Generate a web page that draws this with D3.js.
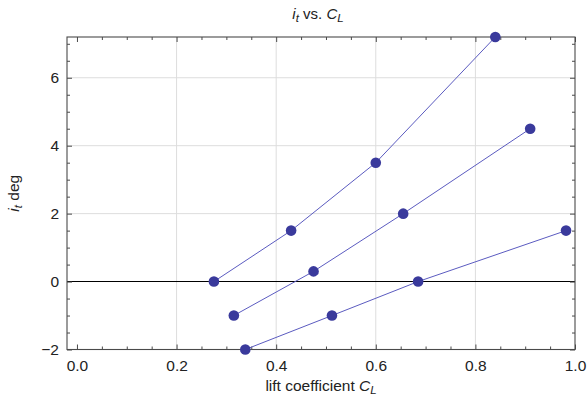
<!DOCTYPE html>
<html>
<head>
<meta charset="utf-8">
<script src="https://cdn.jsdelivr.net/npm/d3@7"></script>
<style>
  html, body { margin: 0; padding: 0; background: #fff; }
  svg { display: block; font-family: "Liberation Sans", Arial, sans-serif; }
</style>
</head>
<body>
<svg id="chart" width="588" height="407"></svg>
<script>
// Tail incidence required vs. lift coefficient, one line per trim case
const seriesA = [[0.275, 0], [0.43, 1.5], [0.6, 3.5], [0.84, 7.2]];
const seriesB = [[0.315, -1], [0.475, 0.3], [0.655, 2], [0.91, 4.5]];
const seriesC = [[0.338, -2], [0.512, -1], [0.685, 0], [0.982, 1.5]];
const allSeries = [seriesA, seriesB, seriesC];

const xTicks = [0, 0.2, 0.4, 0.6, 0.8, 1.0];
const yTicks = [-2, 0, 2, 4, 6];

const svg = d3.select("#chart");
const plotLeft = 67, plotRight = 575, plotTop = 37, plotBottom = 349.5;
const labelSize = 15.5, subSize = 11.5;

const x = d3.scaleLinear().domain([-0.02, 1.0]).range([plotLeft, plotRight]);
const y = d3.scaleLinear().domain([-2, 7.2]).range([plotBottom, plotTop]);

const xMinor = d3.range(0, 1.0001, 0.05).filter(v => !xTicks.some(t => Math.abs(t - v) < 1e-6));
const yMinor = d3.range(-2, 7.2, 0.5).filter(v => !yTicks.some(t => Math.abs(t - v) < 1e-6));

// grid lines
const grid = svg.append("g").attr("stroke", "#dddddd").attr("stroke-width", 1);
grid.selectAll(".gx").data(xTicks.filter(v => v > 0 && v < 1)).join("line")
  .attr("x1", d => x(d)).attr("x2", d => x(d)).attr("y1", plotTop).attr("y2", plotBottom);
grid.selectAll(".gy").data(yTicks.filter(v => v > 0)).join("line")
  .attr("x1", plotLeft).attr("x2", plotRight).attr("y1", d => y(d)).attr("y2", d => y(d));

// zero axis
svg.append("line").attr("x1", plotLeft).attr("x2", plotRight)
  .attr("y1", y(0)).attr("y2", y(0)).attr("stroke", "#000").attr("stroke-width", 1.1);

// frame with inward ticks on all four sides
const frameColor = "#4a4a4a";
function addAxis(axisFn, scale, ticks, minor, transform, labels) {
  const gMaj = svg.append("g").attr("transform", transform)
    .call(axisFn(scale).tickValues(ticks).tickSizeInner(-5).tickSizeOuter(0)
      .tickFormat(labels ? (d => d3.format(".1f")(d)) : ""));
  gMaj.select(".domain").remove();
  gMaj.selectAll("line").attr("stroke", frameColor);
  const gMin = svg.append("g").attr("transform", transform)
    .call(axisFn(scale).tickValues(minor).tickSizeInner(-3).tickSizeOuter(0).tickFormat(""));
  gMin.select(".domain").remove();
  gMin.selectAll("line").attr("stroke", frameColor);
  return gMaj;
}
const xb = addAxis(d3.axisBottom, x, xTicks, xMinor, `translate(0,${plotBottom})`, true);
xb.selectAll("text").attr("font-size", labelSize).attr("fill", "#222")
  .attr("dy", "0.71em").attr("y", 10);
addAxis(d3.axisTop, x, xTicks, xMinor, `translate(0,${plotTop})`, false);
const yl = addAxis(d3.axisLeft, y, yTicks, yMinor, `translate(${plotLeft},0)`, true);
yl.selectAll("text").text(d => d < 0 ? "\u2212" + Math.abs(d) : d)
  .attr("font-size", labelSize).attr("fill", "#222").attr("x", -8);
addAxis(d3.axisRight, y, yTicks, yMinor, `translate(${plotRight},0)`, false);

svg.append("rect").attr("x", plotLeft).attr("y", plotTop)
  .attr("width", plotRight - plotLeft).attr("height", plotBottom - plotTop)
  .attr("fill", "none").attr("stroke", frameColor).attr("stroke-width", 1.1);

// data lines and markers
const line = d3.line().x(d => x(d[0])).y(d => y(d[1]));
svg.append("g").selectAll("path").data(allSeries).join("path")
  .attr("d", line).attr("fill", "none").attr("stroke", "#5b5bc0").attr("stroke-width", 1);
svg.append("g").selectAll("circle").data(allSeries.flat()).join("circle")
  .attr("cx", d => x(d[0])).attr("cy", d => y(d[1])).attr("r", 5.3)
  .attr("fill", "#3a3a9c");

// title and axis labels
const cx = (plotLeft + plotRight) / 2;
const title = svg.append("text").attr("x", cx - 3).attr("y", 19)
  .attr("text-anchor", "middle").attr("font-size", 15).attr("fill", "#222");
title.append("tspan").attr("font-style", "italic").text("i");
title.append("tspan").attr("font-style", "italic").attr("font-size", subSize).attr("dy", 3).text("t");
title.append("tspan").attr("dy", -3).text(" vs. ");
title.append("tspan").attr("font-style", "italic").text("C");
title.append("tspan").attr("font-style", "italic").attr("font-size", subSize).attr("dy", 3).text("L");

const xl = svg.append("text").attr("x", cx).attr("y", 391)
  .attr("text-anchor", "middle").attr("font-size", labelSize).attr("fill", "#222");
xl.append("tspan").text("lift coefficient ");
xl.append("tspan").attr("font-style", "italic").text("C");
xl.append("tspan").attr("font-style", "italic").attr("font-size", subSize).attr("dy", 3).text("L");

const ylab = svg.append("text")
  .attr("transform", `translate(19,${(plotTop + plotBottom) / 2}) rotate(-90)`)
  .attr("text-anchor", "middle").attr("font-size", labelSize).attr("fill", "#222");
ylab.append("tspan").attr("font-style", "italic").text("i");
ylab.append("tspan").attr("font-style", "italic").attr("font-size", subSize).attr("dy", 3).text("t");
ylab.append("tspan").attr("dy", -3).text(" deg");
</script>
</body>
</html>
